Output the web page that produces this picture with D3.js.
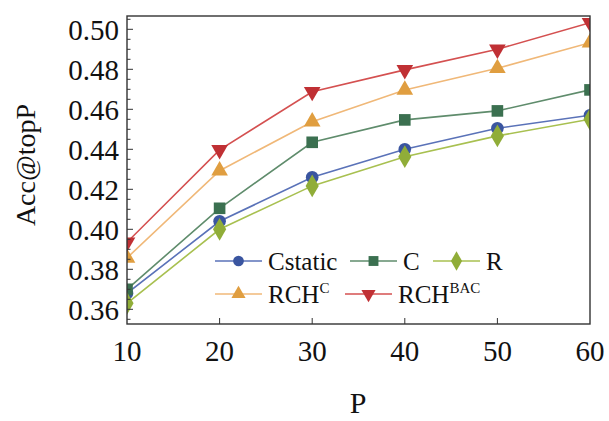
<!DOCTYPE html>
<html>
<head>
<meta charset="utf-8">
<script src="https://cdn.jsdelivr.net/npm/d3@7.9.0/dist/d3.min.js"></script>
<style>
  body { margin: 0; background: #fff; }
  text { font-family: "Liberation Serif", "Times New Roman", serif; fill: #111; }
</style>
</head>
<body>
<svg id="chart" width="609" height="421"></svg>
<script>
const pValues = [10, 20, 30, 40, 50, 60];
const cstatic = [0.368, 0.404, 0.426, 0.440, 0.4505, 0.457];
const cSeries = [0.370, 0.4105, 0.4435, 0.4547, 0.4592, 0.4697];
const rSeries = [0.363, 0.400, 0.4217, 0.4363, 0.4467, 0.455];
const rchC = [0.3857, 0.4293, 0.4538, 0.4697, 0.4805, 0.4933];
const rchBAC = [0.3935, 0.4397, 0.4688, 0.4797, 0.4900, 0.5033];
const yTicks = [0.36, 0.38, 0.40, 0.42, 0.44, 0.46, 0.48, 0.50];

const series = [
  { name: 'Cstatic', sup: '', values: cstatic, line: '#5a72b8', mark: '#3a55a0', shape: 'circle' },
  { name: 'C', sup: '', values: cSeries, line: '#5f8c6c', mark: '#3b7050', shape: 'square' },
  { name: 'R', sup: '', values: rSeries, line: '#a8c050', mark: '#90ad38', shape: 'diamond' },
  { name: 'RCH', sup: 'C', values: rchC, line: '#f0b878', mark: '#e09e40', shape: 'up' },
  { name: 'RCH', sup: 'BAC', values: rchBAC, line: '#d45050', mark: '#c03034', shape: 'down' }
];

const svg = d3.select('#chart');
const plotL = 127, plotR = 590, plotT = 16, plotB = 324;

const x = d3.scaleLinear().domain([10, 60]).range([plotL, plotR]);
const y = d3.scaleLinear().domain([0.36, 0.50]).range([309.3, 29.3]);

function symbolPath(shape) {
  if (shape === 'circle') return d3.symbol(d3.symbolCircle, 125)();
  if (shape === 'square') return d3.symbol(d3.symbolSquare, 135)();
  if (shape === 'diamond') return d3.symbol(d3.symbolDiamond, 150)();
  return d3.symbol(d3.symbolTriangle, 120)();
}

svg.append('clipPath').attr('id', 'plotclip')
  .append('rect').attr('x', plotL).attr('y', plotT)
  .attr('width', plotR - plotL).attr('height', plotB - plotT);

const plot = svg.append('g').attr('clip-path', 'url(#plotclip)');
const line = d3.line().x((d, i) => x(pValues[i])).y(d => y(d));

series.forEach(s => {
  plot.append('path')
    .attr('d', line(s.values))
    .attr('fill', 'none')
    .attr('stroke', s.line)
    .attr('stroke-width', 1.6);
});
series.forEach(s => {
  s.values.forEach((v, i) => {
    plot.append('path')
      .attr('d', symbolPath(s.shape))
      .attr('transform', `translate(${x(pValues[i])},${y(v)})` + (s.shape === 'down' ? ' rotate(180)' : ''))
      .attr('fill', s.mark);
  });
});

// frame
svg.append('rect')
  .attr('x', plotL).attr('y', plotT)
  .attr('width', plotR - plotL).attr('height', plotB - plotT)
  .attr('fill', 'none').attr('stroke', '#333').attr('stroke-width', 1.4);

// y ticks (major + minor, inward)
const yMinor = d3.range(0, 32).map(i => 0.350 + i * 0.005).filter(v => y(v) > plotT + 1 && y(v) < plotB - 1);
svg.append('g').selectAll('line').data(yMinor).join('line')
  .attr('x1', plotL).attr('x2', d => plotL + (Math.abs(d * 50 - Math.round(d * 50)) < 1e-6 ? 6 : 3.5))
  .attr('y1', d => y(d)).attr('y2', d => y(d))
  .attr('stroke', '#333').attr('stroke-width', 1);

svg.append('g').selectAll('text').data(yTicks).join('text')
  .attr('x', 119).attr('y', d => y(d) + 11)
  .attr('text-anchor', 'end')
  .attr('font-size', 29)
  .text(d => d.toFixed(2));

// x ticks
svg.append('g').selectAll('line').data(pValues.slice(1, -1)).join('line')
  .attr('x1', d => x(d)).attr('x2', d => x(d))
  .attr('y1', plotB).attr('y2', plotB - 6)
  .attr('stroke', '#333').attr('stroke-width', 1);

svg.append('g').selectAll('text').data(pValues).join('text')
  .attr('x', d => x(d)).attr('y', 361)
  .attr('text-anchor', 'middle')
  .attr('font-size', 29)
  .text(d => d);

// axis titles
svg.append('text')
  .attr('x', 358).attr('y', 413)
  .attr('text-anchor', 'middle')
  .attr('font-size', 30)
  .text('P');

svg.append('text')
  .attr('transform', 'translate(35,165) rotate(-90)')
  .attr('text-anchor', 'middle')
  .attr('font-size', 28)
  .text('Acc@topP');

// legend
const legendPos = [
  { lx: 215, y: 261 }, { lx: 350, y: 261 }, { lx: 433, y: 261 },
  { lx: 215, y: 294 }, { lx: 345, y: 294 }
];
series.forEach((s, i) => {
  const p = legendPos[i];
  const g = svg.append('g');
  g.append('line')
    .attr('x1', p.lx).attr('x2', p.lx + 47)
    .attr('y1', p.y).attr('y2', p.y)
    .attr('stroke', s.line).attr('stroke-width', 1.6);
  g.append('path')
    .attr('d', symbolPath(s.shape))
    .attr('transform', `translate(${p.lx + 23.5},${p.y})` + (s.shape === 'down' ? ' rotate(180)' : '') + ' scale(0.85)')
    .attr('fill', s.mark);
  const t = g.append('text')
    .attr('x', p.lx + 53).attr('y', p.y + 9)
    .attr('font-size', 25)
    .text(s.name);
  if (s.sup) {
    t.append('tspan')
      .attr('dy', -10)
      .attr('font-size', 15)
      .text(s.sup);
  }
});
</script>
</body>
</html>
